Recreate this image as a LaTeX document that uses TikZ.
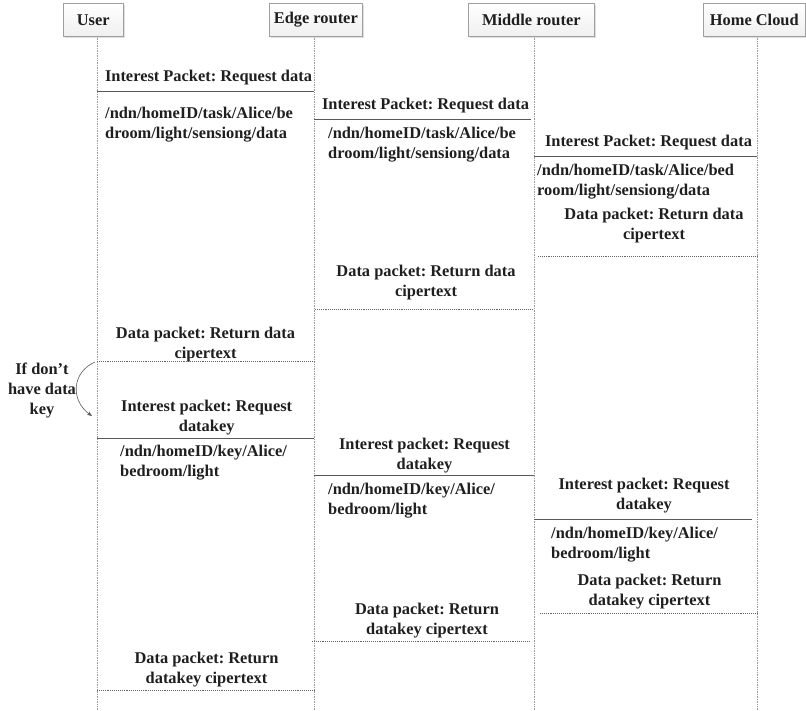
\documentclass[tikz,border=0pt]{standalone}
\usepackage{fontspec}
\setmainfont{Liberation Serif}
\usetikzlibrary{shadows,arrows.meta}
\frenchspacing
\begin{document}
\begin{tikzpicture}[x=1pt,y=-1pt,
  every node/.style={font=\bfseries\fontsize{16.4}{20}\selectfont, text=black!88},
  head/.style={draw=gray!75, line width=0.6pt, top color=white, bottom color=gray!12,
    drop shadow={opacity=0.25, shadow xshift=1.2pt, shadow yshift=-1.2pt},
    anchor=north west, inner sep=0pt},
  life/.style={densely dotted, gray!80, line width=0.7pt},
  req/.style={draw=black!65, line width=0.9pt},
  resp/.style={densely dotted, black!60, line width=0.9pt},
  lbl/.style={anchor=north, inner sep=0pt, align=center},
  uri/.style={anchor=north west, inner sep=0pt, align=left},
  note/.style={-{Stealth[length=5pt,width=4pt]}, gray!70!black, line width=0.6pt}]
\useasboundingbox (0,0) rectangle (806,710);

% participants
\node[head, minimum width=60pt, minimum height=33pt] (user) at (63,3) {User};
\node[head, minimum width=93pt, minimum height=33pt] (edge) at (269,3) {Edge router};
\node[head, minimum width=126pt, minimum height=33pt] (mid) at (468,3) {Middle router};
\node[head, minimum width=102pt, minimum height=33pt] (cloud) at (703,3) {Home Cloud};

% lifelines
\coordinate (uT) at (97,36);  \coordinate (uB) at (97,710);
\coordinate (eT) at (314,36); \coordinate (eB) at (314,710);
\coordinate (mT) at (534,36); \coordinate (mB) at (534,710);
\coordinate (cT) at (757,36); \coordinate (cB) at (757,710);
\draw[life] (uT) -- (uB);
\draw[life] (eT) -- (eB);
\draw[life] (mT) -- (mB);
\draw[life] (cT) -- (cB);

% interest for data
\node[lbl] (i1) at (208.5,70) {Interest Packet: Request data};
\draw[req] (uT |- 0,91) -- (eT |- 0,91);
\node[uri] (n1) at (105,106.5) {/ndn/homeID/task/Alice/be\\droom/light/sensiong/data};

\node[lbl] (i2) at (425.5,98.3) {Interest Packet: Request data};
\draw[req] (eT |- 0,119.3) -- ([xshift=-3pt]mT |- 0,119.3);
\node[uri] (n2) at (328,126.7) {/ndn/homeID/task/Alice/be\\droom/light/sensiong/data};

\node[lbl] (i3) at (648.5,135) {Interest Packet: Request data};
\draw[req] (mT |- 0,156.7) -- (cT |- 0,156.7);
\node[uri] (n3) at (537,164) {/ndn/homeID/task/Alice/bed\\room/light/sensiong/data};

% data returned
\node[lbl] (d1) at (654,208.3) {Data packet: Return data\\cipertext};
\draw[resp] ([xshift=4pt]mT |- 0,256) -- (cT |- 0,256);

\node[lbl] (d2) at (426,265) {Data packet: Return data\\cipertext};
\draw[resp] ([xshift=1pt]eT |- 0,309) -- ([xshift=-2pt]mT |- 0,309);

\node[lbl] (d3) at (205.5,326.7) {Data packet: Return data\\cipertext};
\draw[resp] (uT |- 0,361.7) -- (eT |- 0,361.7);

% missing key
\node[lbl] (miss) at (42,363) {If don’t\\have data\\key};
\coordinate (ka) at (95,362);
\coordinate (kb) at (92,416);
\draw[note] (ka) .. controls (72,372) and (70,400) .. (kb);

% interest for data key
\node[lbl] (k1) at (206.7,400) {Interest packet: Request\\datakey};
\draw[req] (uT |- 0,438.3) -- (eT |- 0,438.3);
\node[uri] (p1) at (120,444.7) {/ndn/homeID/key/Alice/\\bedroom/light};

\node[lbl] (k2) at (424.5,438) {Interest packet: Request\\datakey};
\draw[req] (eT |- 0,475) -- (mT |- 0,475);
\node[uri] (p2) at (328,483) {/ndn/homeID/key/Alice/\\bedroom/light};

\node[lbl] (k3) at (644,478) {Interest packet: Request\\datakey};
\draw[req] (mT |- 0,519.3) -- ([xshift=-5pt]cT |- 0,519.3);
\node[uri] (p3) at (551,527) {/ndn/homeID/key/Alice/\\bedroom/light};

% data key returned
\node[lbl] (r1) at (649.5,574) {Data packet: Return\\datakey cipertext};
\draw[resp] ([xshift=6pt]mT |- 0,613.3) -- (cT |- 0,613.3);

\node[lbl] (r2) at (427,603) {Data packet: Return\\datakey cipertext};
\draw[resp] ([xshift=-2pt]eT |- 0,641.7) -- ([xshift=-5pt]mT |- 0,641.7);

\node[lbl] (r3) at (206.5,651.7) {Data packet: Return\\datakey cipertext};
\draw[resp] (uT |- 0,690.7) -- (eT |- 0,690.7);
\end{tikzpicture}
\end{document}
